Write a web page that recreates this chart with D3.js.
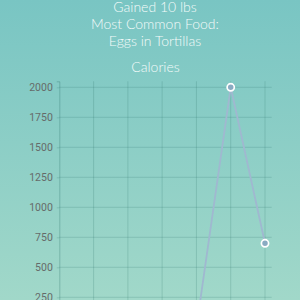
<!DOCTYPE html>
<html>
<head>
<meta charset="utf-8">
<script src="https://cdn.jsdelivr.net/npm/d3@7"></script>
<style>
  html, body { margin: 0; padding: 0; overflow: hidden; }
  body { width: 300px; height: 300px; background: linear-gradient(#79c5c3, #a1d8c9); }
  svg { display: block; }
</style>
</head>
<body>
<svg id="chart"></svg>
<script>
// data
var titleLines = ["Gained 10 lbs", "Most Common Food:", "Eggs in Tortillas"];
var seriesName = "Calories";
var categories = ["1", "2", "3", "4", "5", "6", "7"];
var calories = [0, 0, 0, 0, 0, 2000, 700];
var yTicks = [0, 250, 500, 750, 1000, 1250, 1500, 1750, 2000];

var width = 300, height = 300;
var svg = d3.select("#chart").attr("width", width).attr("height", height);

// titles
svg.selectAll("text.title")
  .data(titleLines)
  .enter()
  .append("text")
  .attr("class", "title")
  .attr("x", 155)
  .attr("y", function (d, i) { return 11.5 + i * 17.3; })
  .attr("text-anchor", "middle")
  .style("font-family", "Lato, 'Open Sans', sans-serif")
  .style("font-weight", 300)
  .style("font-size", "14px")
  .style("fill", "#f4fbfa")
  .text(function (d) { return d; });

svg.append("text")
  .attr("x", 155.5)
  .attr("y", 71.5)
  .attr("text-anchor", "middle")
  .style("font-family", "Lato, 'Open Sans', sans-serif")
  .style("font-weight", 300)
  .style("font-size", "14px")
  .style("fill", "#f4fbfa")
  .text(seriesName);

// scales
var x = d3.scalePoint().domain(categories).range([59.3, 265]);
var y = d3.scaleLinear().domain([0, 2050]).range([327.3, 81.3]);

var gridColor = "rgba(40,110,100,0.2)";

// horizontal grid + y labels
var yAxis = svg.append("g")
  .attr("transform", "translate(59.3,0)")
  .call(d3.axisLeft(y).tickValues(yTicks).tickFormat(d3.format("d")).tickSize(2.5).tickPadding(4));
yAxis.select(".domain").attr("stroke", "rgba(40,110,100,0.3)");
yAxis.selectAll(".tick line").attr("stroke", gridColor);
yAxis.selectAll(".tick text")
  .style("font-family", "Roboto, sans-serif")
  .style("font-size", "10.5px")
  .style("fill", "#666b6a");

svg.append("g")
  .selectAll("line")
  .data(yTicks)
  .enter()
  .append("line")
  .attr("x1", 59.3)
  .attr("x2", 271.7)
  .attr("y1", function (d) { return y(d); })
  .attr("y2", function (d) { return y(d); })
  .attr("stroke", gridColor);

// vertical grid
svg.append("g")
  .selectAll("line")
  .data(categories.slice(1))
  .enter()
  .append("line")
  .attr("x1", function (d) { return x(d); })
  .attr("x2", function (d) { return x(d); })
  .attr("y1", 81.3)
  .attr("y2", 330)
  .attr("stroke", gridColor);

// line
var line = d3.line()
  .x(function (d, i) { return x(categories[i]); })
  .y(function (d) { return y(d); });

svg.append("path")
  .datum(calories)
  .attr("d", line)
  .attr("fill", "none")
  .attr("stroke", "#a0b8d0")
  .attr("stroke-width", 1.8);

svg.append("g")
  .selectAll("circle")
  .data(calories)
  .enter()
  .append("circle")
  .attr("cx", function (d, i) { return x(categories[i]); })
  .attr("cy", function (d) { return y(d); })
  .attr("r", 3.6)
  .attr("fill", "#8aabc2")
  .attr("stroke", "#ffffff")
  .attr("stroke-width", 1.7);
</script>
</body>
</html>
